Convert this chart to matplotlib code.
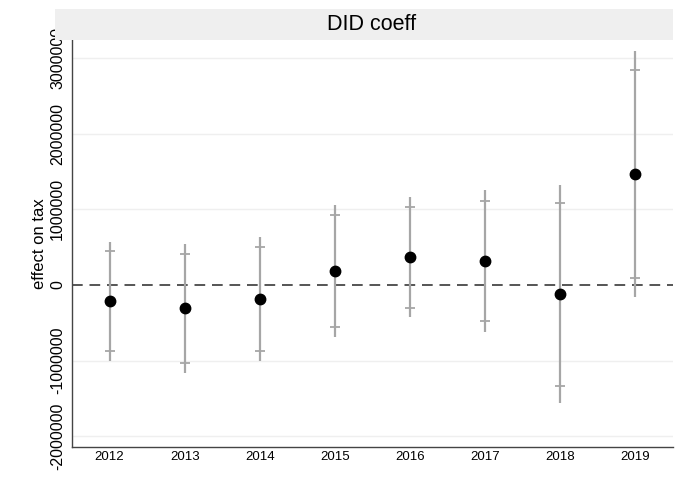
import matplotlib
matplotlib.use("Agg")
import matplotlib.pyplot as plt
from matplotlib.patches import Rectangle

plt.rcParams['font.family'] = ['Liberation Sans', 'DejaVu Sans']

years = ["2012", "2013", "2014", "2015", "2016", "2017", "2018", "2019"]
coef = [-211000, -304000, -185000, 189000, 366000, 321000, -119000, 1466000]
ci95_lo = [-1000000, -1166000, -1000000, -683000, -427000, -617000, -1563000, -163000]
ci95_hi = [572000, 538000, 630000, 1057000, 1158000, 1255000, 1321000, 3095000]
ci90_lo = [-872000, -1034000, -868000, -551000, -308000, -471000, -1330000, 96000]
ci90_hi = [453000, 410000, 506000, 929000, 1034000, 1110000, 1087000, 2840000]
yticks = [-2000000, -1000000, 0, 1000000, 2000000, 3000000]

W, H = 678, 484
fig = plt.figure(figsize=(W / 100, H / 100), dpi=100)
ax = fig.add_axes([72 / W, (H - 447) / H, (673 - 72) / W, (447 - 40) / H])

xs = list(range(1, len(years) + 1))

# grid
for t in yticks:
    if t != 0:
        ax.axhline(t, color='#efefef', lw=1.0, zorder=0)

# zero reference line
ax.axhline(0, color='#555555', lw=1.4, ls=(0, (5.5, 3.5)), zorder=1)

# confidence intervals: 95% as lines, 90% as small caps
ax.vlines(xs, ci95_lo, ci95_hi, color='#a6a6a6', lw=1.6, zorder=2)
ax.plot(xs, ci90_lo, ls='none', marker='_', ms=7, mew=1.3, color='#a6a6a6', zorder=2)
ax.plot(xs, ci90_hi, ls='none', marker='_', ms=7, mew=1.3, color='#a6a6a6', zorder=2)

# point estimates
ax.plot(xs, coef, ls='none', marker='o', ms=7.5, color='black', zorder=3)

ax.set_xlim(0.5, 8.5)
ax.set_ylim(-2140000, 3236000)
ax.set_xticks(xs)
ax.set_xticklabels(years, fontsize=9.5)
ax.set_yticks(yticks)
ax.set_yticklabels([str(t) for t in yticks], fontsize=11.5, rotation=90, va='center')
ax.tick_params(axis='both', length=0)
ax.tick_params(axis='x', pad=3)
ax.tick_params(axis='y', pad=5)
ax.set_ylabel("effect on tax", fontsize=12, labelpad=2)

for s in ['top', 'right']:
    ax.spines[s].set_visible(False)
for s in ['left', 'bottom']:
    ax.spines[s].set_color('#444444')
    ax.spines[s].set_linewidth(1.0)

# title band
fig.patches.append(Rectangle((55 / W, (H - 40) / H), (673 - 55) / W, 31 / H,
                             transform=fig.transFigure, facecolor='#efefef',
                             edgecolor='none', zorder=0))
fig.text(372 / W, (H - 24.5) / H, "DID coeff", ha='center', va='center', fontsize=15.5)

fig.savefig("out.png", dpi=100, facecolor='white')
